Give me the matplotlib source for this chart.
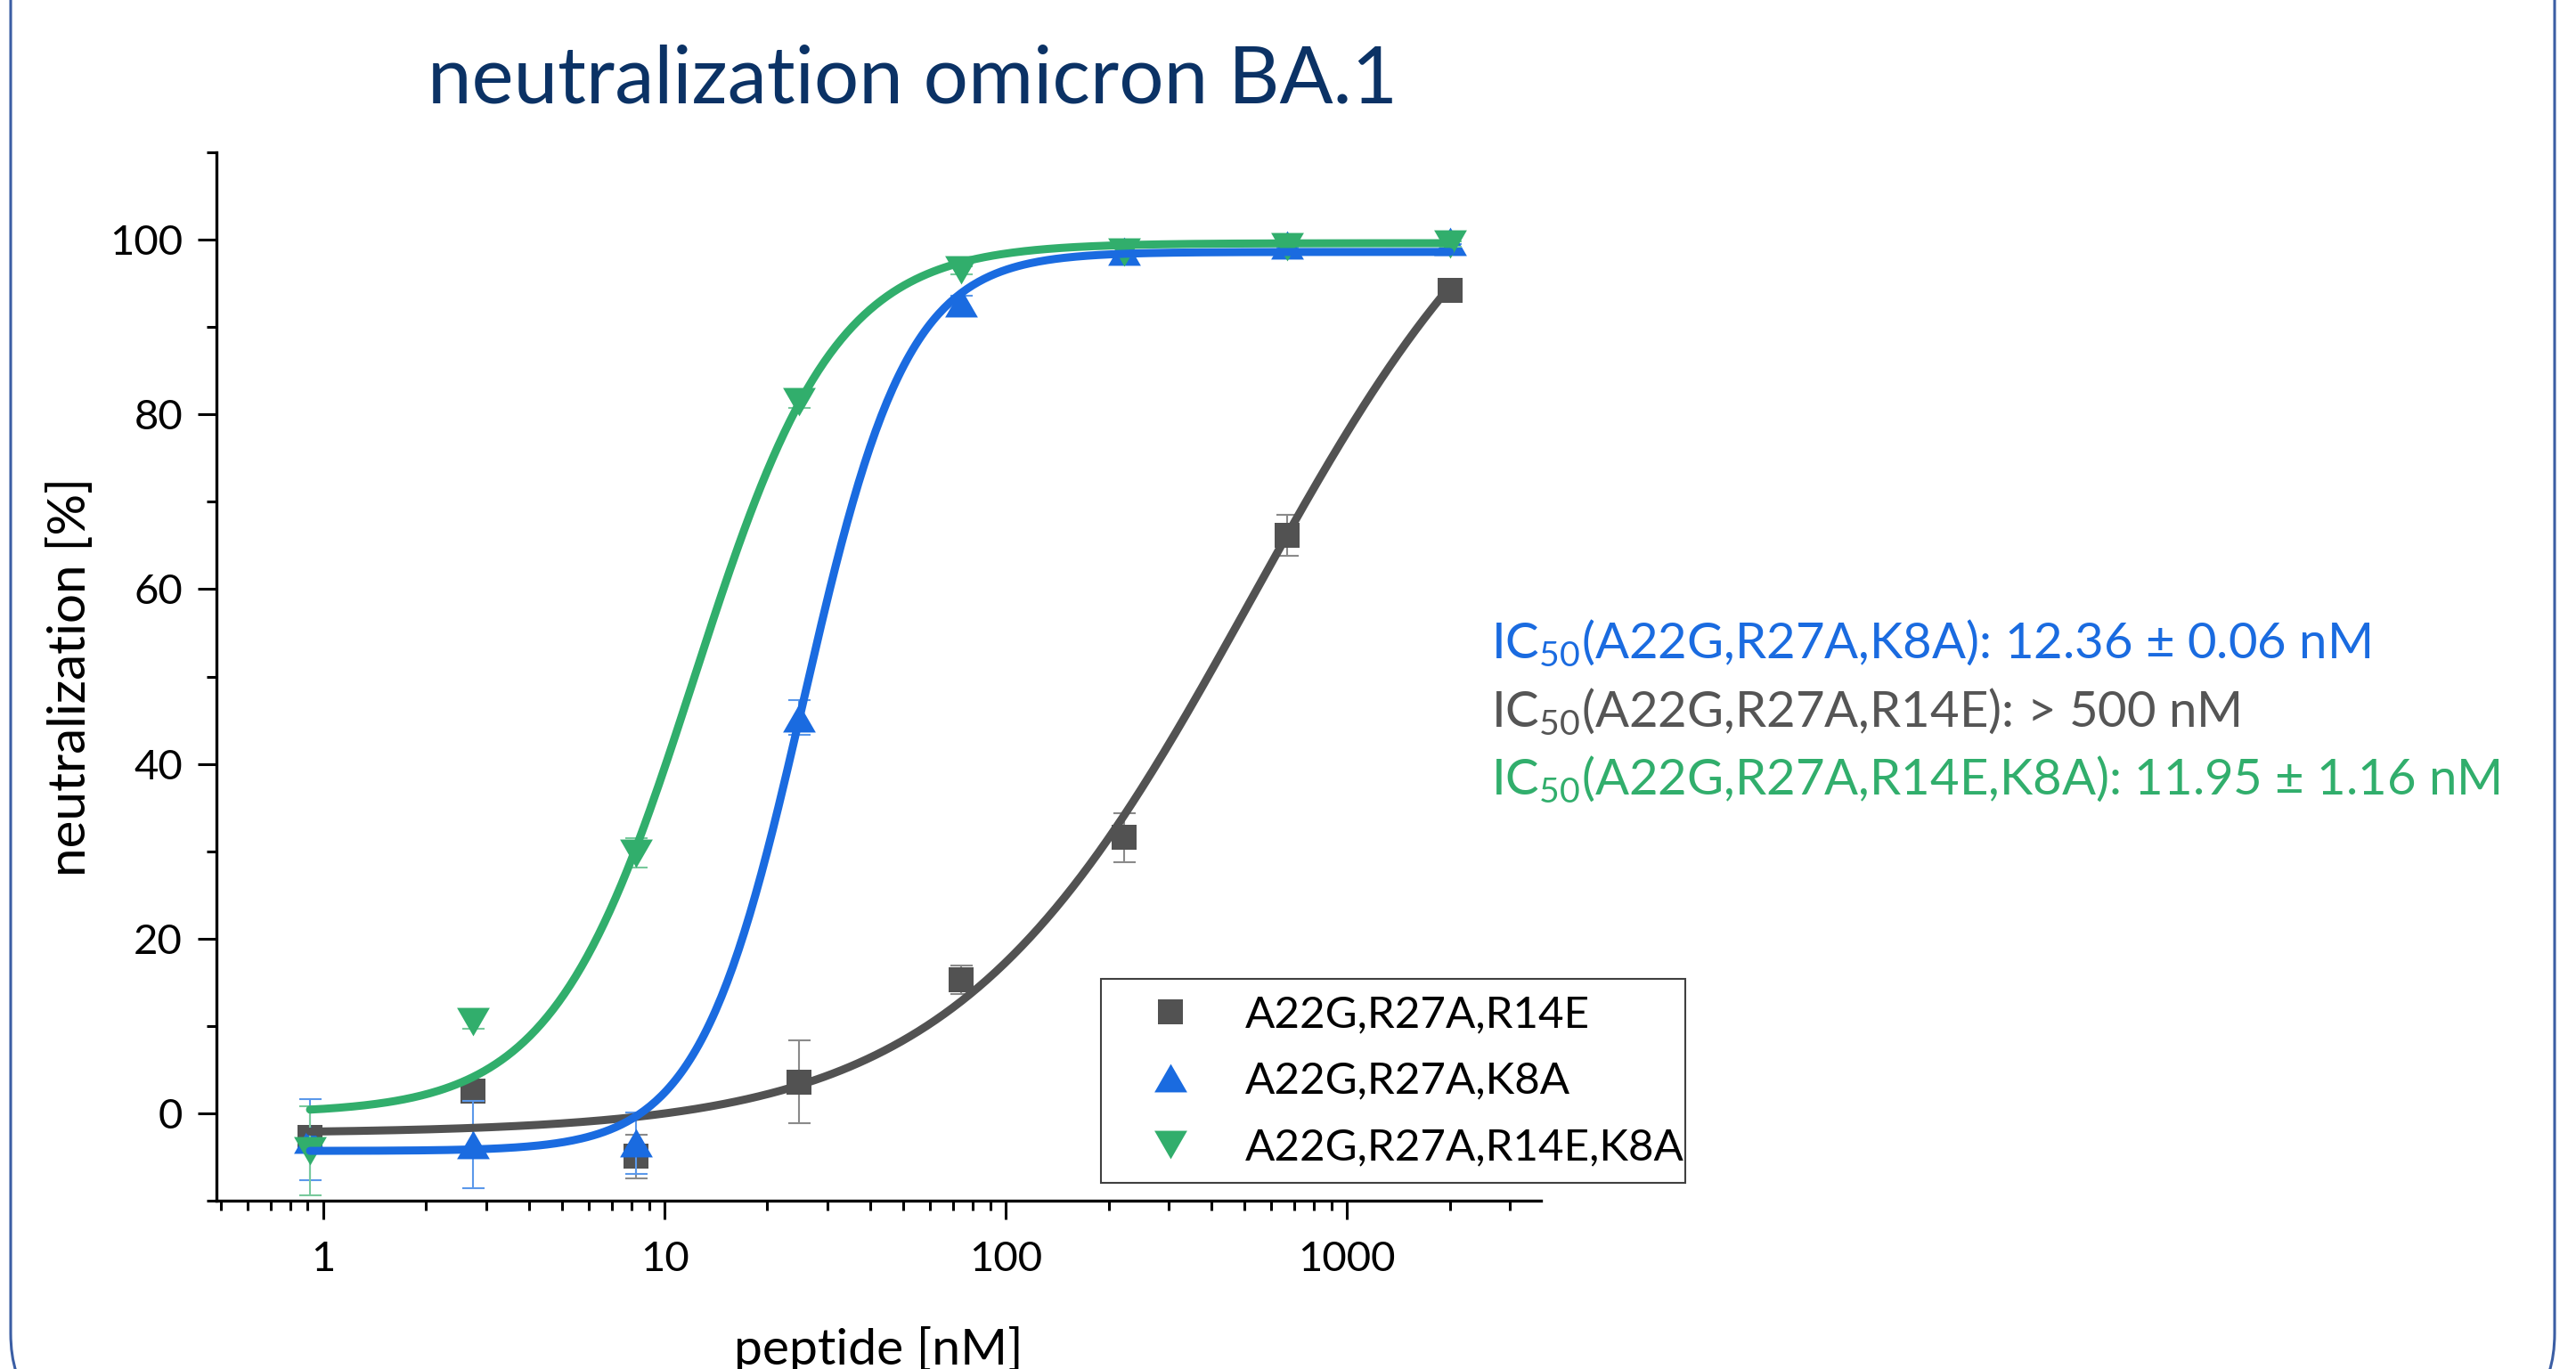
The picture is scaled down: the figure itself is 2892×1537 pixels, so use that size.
import numpy as np
import matplotlib.pyplot as plt
from matplotlib.patches import FancyBboxPatch, Rectangle
from matplotlib.path import Path
from matplotlib.transforms import IdentityTransform
from matplotlib.ticker import LogLocator, MultipleLocator, FixedLocator, NullFormatter

plt.rcParams['font.family'] = ['Lato', 'DejaVu Sans']
plt.rcParams['mathtext.fontset'] = 'custom'
plt.rcParams['mathtext.rm'] = 'Lato'

# peptide concentrations (nM), 3-fold dilution
conc = [0.914, 2.74, 8.23, 24.7, 74.1, 222, 667, 2000]

labels = ['A22G,R27A,R14E', 'A22G,R27A,K8A', 'A22G,R27A,R14E,K8A']

# mean neutralization [%] and error
gray_y = [-2.8, 2.5, -4.9, 3.6, 15.3, 31.6, 66.2, 94.2]
gray_err = [1.0, 1.0, 2.5, 4.75, 1.6, 2.8, 2.35, 0.3]
blue_y = [-3.0, -3.6, -3.4, 45.3, 92.8, 98.7, 99.4, 99.8]
blue_err = [4.65, 5.0, 3.5, 2.0, 0.8, 0.5, 0.3, 0.3]
green_y = [-4.3, 10.5, 29.8, 81.5, 96.5, 98.6, 99.2, 99.5]
green_err = [5.1, 0.8, 1.7, 0.8, 0.5, 0.5, 0.3, 0.3]

# dose-response fits: bottom, top, x0, hill
gray_fit = [-2.3, 120.0, 524.0, 1.0]
blue_fit = [-4.3, 98.6, 25.5, 2.85]
green_fit = [0.0, 99.6, 12.2, 2.1]

ic50_text = ['IC$_\\mathregular{50}$(A22G,R27A,K8A): 12.36 \u00b1 0.06 nM',
             'IC$_\\mathregular{50}$(A22G,R27A,R14E): > 500 nM',
             'IC$_\\mathregular{50}$(A22G,R27A,R14E,K8A): 11.95 \u00b1 1.16 nM']

c_gray = '#525252'
c_blue = '#1a6be0'
c_green = '#31ae6c'
eb_gray = '#8a8a8a'
eb_blue = '#5b98ea'
eb_green = '#78c99c'

# equilateral triangles like Origin
up_tri = Path([(-1, -0.866), (1, -0.866), (0, 0.866), (-1, -0.866)], closed=True)
down_tri = Path([(-1, 0.866), (1, 0.866), (0, -0.866), (-1, 0.866)], closed=True)

W, H = 2892, 1537
fig = plt.figure(figsize=(W / 100, H / 100), dpi=100)
ax = fig.add_axes([242.6 / W, 1 - 1348.1 / H, (1730 - 242.6) / W, (1348.1 - 171) / H])

series = [
    (gray_y, gray_err, gray_fit, c_gray, eb_gray, 's', 19.5),
    (blue_y, blue_err, blue_fit, c_blue, eb_blue, up_tri, 26.5),
    (green_y, green_err, green_fit, c_green, eb_green, down_tri, 26.5),
]

handles = []
for i, (y, err, fit, col, ecol, mk, ms) in enumerate(series):
    ax.errorbar(conc, y, yerr=err, fmt='none', ecolor=ecol, elinewidth=1.5,
                capsize=9, capthick=1.5, zorder=2 + i)
    h = ax.plot(conc, y, linestyle='none', marker=mk, ms=ms, color=col,
                mew=0, zorder=3 + i, label=labels[i])[0]
    handles.append(h)

for i, (y, err, fit, col, ecol, mk, ms) in enumerate(series):
    b, t, x0, hill = fit
    xs = np.logspace(np.log10(conc[0]), np.log10(conc[-1]), 400)
    ax.plot(xs, b + (t - b) / (1 + (x0 / xs) ** hill), color=col, lw=6.5,
            solid_capstyle='round', zorder=6 + i)

ax.set_xscale('log')
ax.set_xlim(0.485, 3700)
ax.set_ylim(-10, 110)
ax.xaxis.set_major_locator(FixedLocator([1, 10, 100, 1000]))
ax.xaxis.set_minor_locator(LogLocator(base=10, subs=np.arange(2, 10), numticks=20))
ax.xaxis.set_minor_formatter(NullFormatter())
ax.set_xticklabels(['1', '10', '100', '1000'])
ax.yaxis.set_major_locator(MultipleLocator(20))
ax.yaxis.set_minor_locator(FixedLocator(np.arange(-10, 111, 20)))

for s in ['top', 'right']:
    ax.spines[s].set_visible(False)
for s in ['left', 'bottom']:
    ax.spines[s].set_linewidth(2.4)
ax.tick_params(which='major', length=15, width=2.2, labelsize=34, pad=12,
               direction='out', colors='black')
ax.tick_params(axis='x', which='major', pad=17)
ax.tick_params(which='minor', length=8, width=2.2, direction='out')

ax.set_xlabel('peptide [nM]', fontsize=41, labelpad=39)
ax.set_ylabel('neutralization [%]', fontsize=42, labelpad=12)

# legend box as in the original (frame drawn separately)
lx0, ly0, lw, lh = 1236, H - 1328, 656, 229
leg = ax.legend(handles=handles, loc='center left',
                bbox_to_anchor=(lx0 / W, ly0 / H, lw / W, lh / H),
                bbox_transform=fig.transFigure, borderaxespad=0, fontsize=35.5,
                frameon=False, borderpad=0.2, handlelength=2.76,
                handletextpad=0.33, labelspacing=0.62, numpoints=1)
fig.add_artist(Rectangle((lx0, ly0), lw, lh, transform=IdentityTransform(),
                         fill=False, edgecolor='#404040', linewidth=1.5))

fig.text(1024 / W, 1 - 115.7 / H, 'neutralization omicron BA.1', fontsize=64,
         color='#0b3265', ha='center', va='baseline')

for txt, col, yb in zip(ic50_text, [c_blue, '#555555', c_green], [739, 816, 892]):
    fig.text(1674 / W, 1 - yb / H, txt, fontsize=40.5, color=col, ha='left', va='baseline')

border = FancyBboxPatch((12, -60), 2856, 1800, boxstyle='round,pad=0,rounding_size=100',
                        transform=IdentityTransform(), fill=False,
                        edgecolor='#3b5ea4', linewidth=2.2)
fig.add_artist(border)

fig.savefig('out.png', dpi=100)
